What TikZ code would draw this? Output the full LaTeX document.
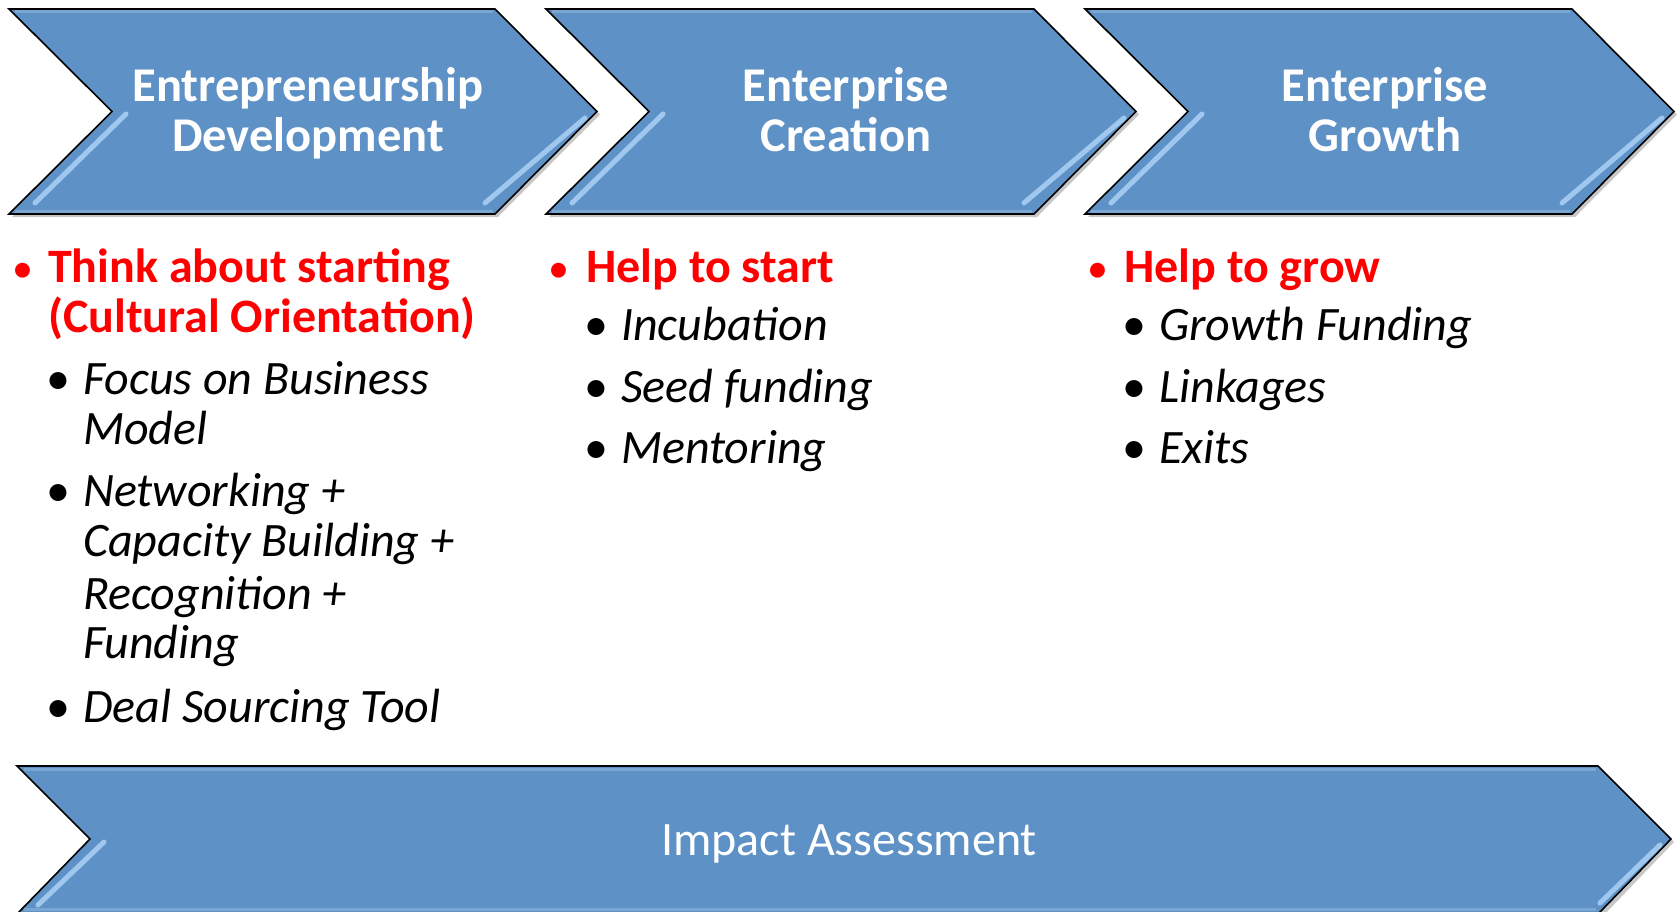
\documentclass[tikz,border=0pt]{standalone}
\usepackage{fontspec}
\setmainfont{Carlito}
\definecolor{chevblue}{HTML}{5E92C6}
\definecolor{chevlight}{HTML}{A8CEF3}
\definecolor{chevedge}{HTML}{8DB4DD}
\begin{document}
\begin{tikzpicture}[x=1pt,y=-1pt,
  chev/.style={fill=chevblue, draw=black, line width=1.6pt, line join=miter},
  shadowpath/.style={fill=black, opacity=0.22},
  glint/.style={draw=chevlight, line width=5pt, line cap=round, opacity=0.9},
  rim/.style={draw=chevedge, line width=3pt, opacity=0.6},
  head/.style={text=white, font=\fontsize{48.5}{50}\selectfont\bfseries, anchor=base, inner sep=0pt},
  impact/.style={text=white, font=\fontsize{48}{50}\selectfont, anchor=base, inner sep=0pt},
  lead/.style={text=red, font=\fontsize{48}{50}\selectfont\bfseries, anchor=base west, inner sep=0pt},
  leadbul/.style={text=red, font=\fontsize{42}{50}\selectfont, anchor=base, inner sep=0pt},
  item/.style={font=\fontsize{48}{50}\selectfont\itshape, anchor=base west, inner sep=0pt},
  itembul/.style={font=\fontsize{48}{50}\selectfont, anchor=base, inner sep=0pt}]
\useasboundingbox (0,0) rectangle (1680,912);
\clip (0,0) rectangle (1680,912);

% ---------- chevrons (top row) ----------
\foreach \L/\R in {9/495, 546/1034, 1085/1572}{
  \pgfmathsetmacro{\T}{\R+102}
  \pgfmathsetmacro{\N}{\L+103}
  \fill[shadowpath] (\L+3,12) -- (\R+3,12) -- (\T+3,114.5) -- (\R+3,217) -- (\L+3,217) -- (\N+3,114.5) -- cycle;
  \draw[chev] (\L,9) -- (\R,9) -- (\T,111.5) -- (\R,214) -- (\L,214) -- (\N,111.5) -- cycle;
  \draw[rim] (\L+6,12) -- (\R-2,12);
  \draw[rim] (\L+6,211) -- (\R-2,211);
  \draw[glint] (\N+14,114) -- (\L+26,203);
  \draw[glint] (\T-12,118) -- (\R-10,203);
}

% ---------- bottom arrow ----------
\fill[shadowpath] (20,769) -- (1601,769) -- (1674,842) -- (1601,918) -- (20,918) -- (93,842) -- cycle;
\draw[chev] (17,766) -- (1598,766) -- (1671,839) -- (1598,914) -- (17,914) -- (90,839) -- cycle;
\draw[rim] (24,769) -- (1596,769);
\draw[rim] (24,909) -- (1596,909);
\draw[glint] (104,842) -- (38,905);
\draw[glint] (1660,845) -- (1600,903);

% ---------- headers ----------
\node[head] (h1a) at (308,102) {Entrepreneurship};
\node[head] (h1b) at (308,152) {Development};
\node[head] (h2a) at (846,102) {Enterprise};
\node[head] (h2b) at (846,152) {Creation};
\node[head] (h3a) at (1385,102) {Enterprise};
\node[head] (h3b) at (1385,152) {Growth};
\node[impact] (imp) at (849,855) {Impact Assessment};

% ---------- column 1 ----------
\node[leadbul] (b1) at (23,282) {•};
\node[lead] (l1a) at (48,282) {Think about starting};
\node[lead] (l1b) at (48,332) {(Cultural Orientation)};
\node[itembul] (b1a) at (58,394) {•};
\node[item] (t1a) at (83,394) {Focus on Business};
\node[item] (t1a2) at (83,444) {Model};
\node[itembul] (b1b) at (58,506) {•};
\node[item] (t1b) at (83,506) {Networking +};
\node[item] (t1b2) at (83,556) {Capacity Building +};
\node[item] (t1b3) at (83,609) {Recognition +};
\node[item] (t1b4) at (83,658) {Funding};
\node[itembul] (b1c) at (58,722) {•};
\node[item] (t1c) at (83,722) {Deal Sourcing Tool};

% ---------- column 2 ----------
\node[leadbul] (b2) at (559,282) {•};
\node[lead] (l2) at (586,282) {Help to start};
\node[itembul] (b2a) at (596,340) {•};
\node[item] (t2a) at (621,340) {Incubation};
\node[itembul] (b2b) at (596,402) {•};
\node[item] (t2b) at (621,402) {Seed funding};
\node[itembul] (b2c) at (596,463) {•};
\node[item] (t2c) at (621,463) {Mentoring};

% ---------- column 3 ----------
\node[leadbul] (b3) at (1098,282) {•};
\node[lead] (l3) at (1124,282) {Help to grow};
\node[itembul] (b3a) at (1134,340) {•};
\node[item] (t3a) at (1159,340) {Growth Funding};
\node[itembul] (b3b) at (1134,402) {•};
\node[item] (t3b) at (1159,402) {Linkages};
\node[itembul] (b3c) at (1134,463) {•};
\node[item] (t3c) at (1159,463) {Exits};
\end{tikzpicture}
\end{document}
